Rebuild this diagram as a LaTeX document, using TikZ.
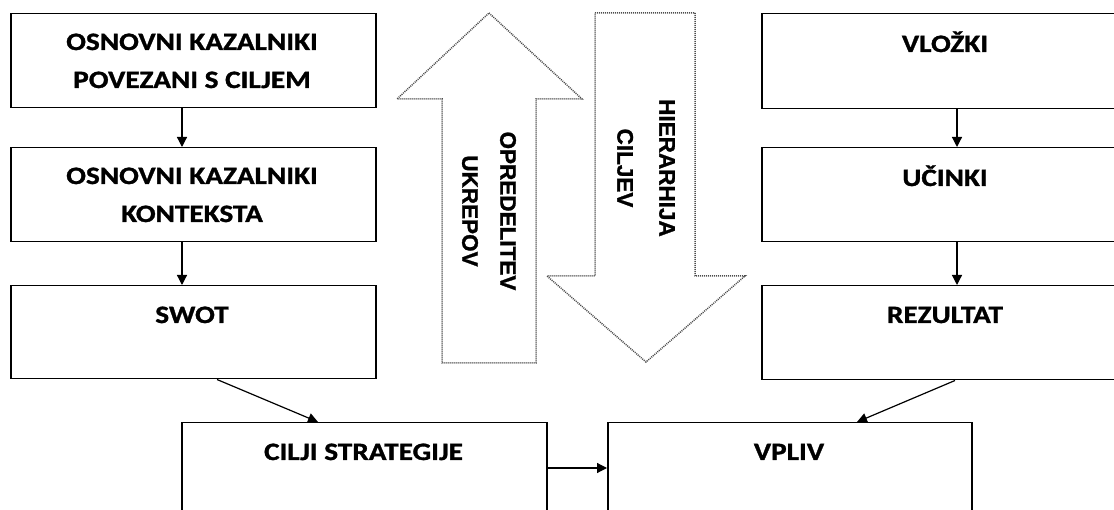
\documentclass[tikz,border=0pt]{standalone}
\usepackage{fontspec}
\usetikzlibrary{arrows.meta,calc}
\newfontfamily\boxfont[FakeStretch=1.17,BoldFeatures={FakeBold=1.2}]{Carlito}
\newfontfamily\arrfont[BoldFeatures={FakeBold=1.2}]{Liberation Sans}
\begin{document}
\begin{tikzpicture}[x=1pt,y=-1pt,
  box/.style={draw=black, line width=1.5pt, rectangle, inner sep=0pt, anchor=north west},
  lbl/.style={font=\boxfont\bfseries\fontsize{25}{38}\selectfont, text=black, align=center, anchor=base, inner sep=0pt},
  conn/.style={line width=1.2pt, -{Triangle[length=10pt,width=10pt]}},
  bigarrow/.style={draw=black!70, line width=1.5pt, dash pattern=on 1pt off 1pt},
  arrtxt/.style={rotate=-90, align=center, inner sep=0pt}]
\useasboundingbox (0,0) rectangle (1114,510);
\clip (0,0) rectangle (1114,510);
% left column
\node[box, minimum width=365pt, minimum height=94pt] (b1) at (10,13) {};
\node[box, minimum width=365pt, minimum height=94pt] (b2) at (10,147) {};
\node[box, minimum width=365pt, minimum height=93pt] (b3) at (10,285) {};
% right column
\node[box, minimum width=400pt, minimum height=95pt] (r1) at (761,13) {};
\node[box, minimum width=400pt, minimum height=94pt] (r2) at (761,147) {};
\node[box, minimum width=400pt, minimum height=94pt] (r3) at (761,285) {};
% bottom
\node[box, minimum width=365pt, minimum height=120pt] (cs) at (181,422) {};
\node[box, minimum width=364pt, minimum height=120pt] (vp) at (607,422) {};
% labels (base anchor = baseline of last line)
\node[lbl] (t1) at (192,88) {OSNOVNI KAZALNIKI\\POVEZANI S CILJEM};
\node[lbl] (t2) at (192,222) {OSNOVNI KAZALNIKI\\KONTEKSTA};
\node[lbl] (t3) at (192,323) {SWOT};
\node[lbl] (u1) at (945,52) {VLOŽKI};
\node[lbl] (u2) at (945,186) {UČINKI};
\node[lbl] (u3) at (945,323) {REZULTAT};
\node[lbl] (tc) at (363.5,460) {CILJI STRATEGIJE};
\node[lbl] (tv) at (789,460) {VPLIV};
% connectors
\draw[conn] ($(b1.south west)+(172,0)$) -- ($(b2.north west)+(172,0)$);
\draw[conn] ($(b2.south west)+(172,0)$) -- ($(b3.north west)+(172,0)$);
\draw[conn] ($(r1.south west)+(196,0)$) -- ($(r2.north west)+(196,0)$);
\draw[conn] ($(r2.south west)+(196,0)$) -- ($(r3.north west)+(196,0)$);
\draw[conn] ($(b3.south west)+(207,0)$) -- ($(cs.north west)+(137,0)$);
\draw[conn] ($(r3.south west)+(194,0)$) -- ($(vp.north west)+(250,0)$);
\draw[conn] ($(cs.north east)+(0,46)$) -- ($(vp.north west)+(0,46)$);
% big dotted arrows
\draw[bigarrow] (489,13) -- (582,99) -- (536,99) -- (536,363) -- (442,363) -- (442,99) -- (397,99) -- cycle;
\draw[bigarrow] (595,13) -- (695,13) -- (695,276) -- (745,276) -- (646,362) -- (547,276) -- (595,276) -- cycle;
\node[arrtxt, font=\arrfont\bfseries\fontsize{22.5}{38}\selectfont] (ou) at (489,211) {OPREDELITEV\\UKREPOV};
\node[arrtxt, font=\arrfont\bfseries\fontsize{22.5}{42}\selectfont] (hc) at (646,168) {HIERARHIJA\\CILJEV};
\end{tikzpicture}
\end{document}
